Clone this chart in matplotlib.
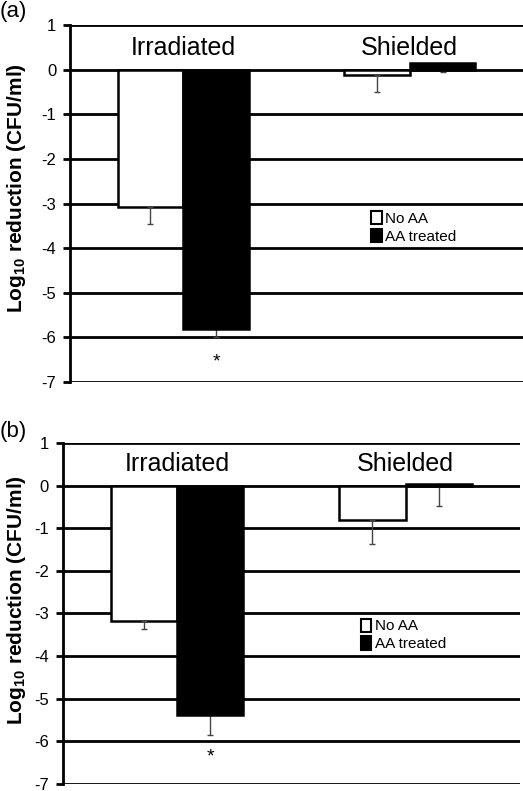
import numpy as np
import matplotlib.pyplot as plt
from matplotlib.patches import Patch

plt.rcParams['font.family'] = ['Liberation Sans', 'DejaVu Sans']
plt.rcParams['axes.unicode_minus'] = False
plt.rcParams['mathtext.fontset'] = 'custom'
plt.rcParams['mathtext.rm'] = 'Liberation Sans:bold'
plt.rcParams['mathtext.it'] = 'Liberation Sans:bold'
plt.rcParams['mathtext.bf'] = 'Liberation Sans:bold'

# Values
categories = ["Irradiated", "Shielded"]
a_no_aa = [-3.08, -0.11]
a_no_aa_err = [0.38, 0.38]
a_aa = [-5.80, 0.15]
a_aa_err = [0.20, 0.19]
b_no_aa = [-3.17, -0.80]
b_no_aa_err = [0.19, 0.56]
b_aa = [-5.38, 0.03]
b_aa_err = [0.47, 0.51]
yticks = [1, 0, -1, -2, -3, -4, -5, -6, -7]

fig = plt.figure(figsize=(5.23, 7.91), dpi=100)
ax_a = fig.add_axes([0.134, 0.517, 0.866, 0.451])
ax_b = fig.add_axes([0.120, 0.009, 0.874, 0.431])

# axes, tag, tag top (fig y), series, asterisk y, legend anchor, ylabel centre (fig y)
panels = [
    (ax_a, "(a)", 0.999, a_no_aa, a_no_aa_err, a_aa, a_aa_err, -6.55, (0.664, 0.48), 1 - 188 / 791),
    (ax_b, "(b)", 0.468, b_no_aa, b_no_aa_err, b_aa, b_aa_err, -6.38, (0.652, 0.485), 1 - 600 / 791),
]

x = np.arange(len(categories))
w = 0.29

for ax, tag, tag_y, no_aa, no_err, aa, aa_err, star_y, leg_pos, lab_y in panels:
    for t in yticks:
        ax.axhline(t, color="black", lw=2, zorder=0)
    ax.bar(x - w / 2, no_aa, w, color="white", edgecolor="black", lw=1.8, zorder=2)
    ax.bar(x + w / 2, aa, w, color="black", edgecolor="black", lw=1.8, zorder=2)
    ax.errorbar(x - w / 2, no_aa, yerr=[no_err, [0, 0]], fmt="none",
                ecolor="#444444", elinewidth=1, capsize=2, zorder=3)
    ax.errorbar(x + w / 2, aa, yerr=[aa_err, [0, 0]], fmt="none",
                ecolor="#444444", elinewidth=1, capsize=2, zorder=1.5)
    ax.text(x[0] + w / 2, star_y, "*", ha="center", va="center", fontsize=14)
    for xi, c in zip(x, categories):
        ax.text(xi, 0.5, c, ha="center", va="center", fontsize=18)

    ax.set_xlim(-0.5, 1.5)
    ax.set_ylim(-7, 1)
    ax.set_yticks(yticks)
    ax.set_xticks([])
    ax.tick_params(axis="y", direction="out", length=5, width=2, labelsize=12, pad=5)
    for s in ["top", "right", "bottom"]:
        ax.spines[s].set_visible(False)
    ax.spines["left"].set_linewidth(2)

    fig.text(17 / 523, lab_y, "Log$_{10}$ reduction (CFU/ml)", rotation=90,
             fontsize=15, fontweight="bold", ha="center", va="center")

    handles = [Patch(facecolor="white", edgecolor="black", lw=1.5, label="No AA"),
               Patch(facecolor="black", edgecolor="black", lw=1.5, label="AA treated")]
    ax.legend(handles=handles, loc="upper left", bbox_to_anchor=leg_pos, frameon=False,
              fontsize=11, handlelength=0.7, handleheight=0.95, handletextpad=0.25,
              labelspacing=0.2, borderpad=0, borderaxespad=0)

    fig.text(0.0, tag_y, tag, fontsize=16, ha="left", va="top")

fig.savefig("out.png", dpi=100)
